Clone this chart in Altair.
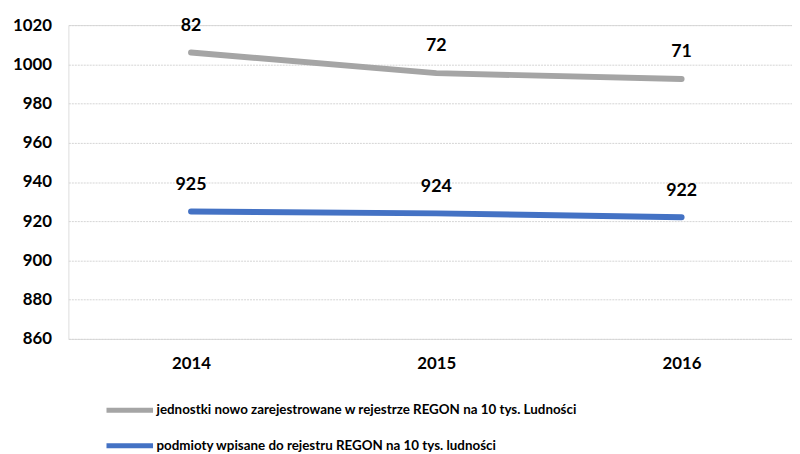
import altair as alt
import pandas as pd

years = [2014, 2015, 2016]
series_names = [
    "jednostki nowo zarejestrowane w rejestrze REGON na 10 tys. Ludności",
    "podmioty wpisane do rejestru REGON na 10 tys. ludności",
]
gray_values = [1006, 995.5, 992.5]
gray_labels = ["82", "72", "71"]
blue_values = [925, 924, 922]
blue_labels = ["925", "924", "922"]
y_ticks = [860, 880, 900, 920, 940, 960, 980, 1000, 1020]

rows = []
for yr, v, lab in zip(years, gray_values, gray_labels):
    rows.append({"rok": yr, "seria": series_names[0], "wartosc": v, "etykieta": lab})
for yr, v, lab in zip(years, blue_values, blue_labels):
    rows.append({"rok": yr, "seria": series_names[1], "wartosc": v, "etykieta": lab})
df = pd.DataFrame(rows)

FONT = "Lato"

x = alt.X(
    "rok:Q",
    scale=alt.Scale(domain=[2013.5, 2016.45], nice=False, zero=False),
    axis=alt.Axis(
        values=years, format="d", title=None, grid=False, domain=False, ticks=False,
        labelFont=FONT, labelFontSize=17, labelFontWeight="bold", labelColor="#000000",
        labelPadding=17, labelFlush=False,
    ),
)
y = alt.Y(
    "wartosc:Q",
    scale=alt.Scale(domain=[860, 1020], nice=False, zero=False),
    axis=alt.Axis(
        values=y_ticks, format="d", title=None, domain=False, ticks=False,
        gridColor="#d4d4d4", gridDash=[2, 1], gridWidth=1,
        labelFont=FONT, labelFontSize=17, labelFontWeight="bold", labelColor="#000000",
        labelPadding=17,
    ),
)
color = alt.Color(
    "seria:N",
    scale=alt.Scale(domain=series_names, range=["#a5a5a5", "#4472c4"]),
    legend=alt.Legend(
        title=None, orient="none", legendX=36, legendY=363, direction="vertical",
        symbolType="stroke", symbolSize=2209, symbolStrokeWidth=5,
        labelFont=FONT, labelFontSize=13.5, labelFontWeight="bold",
        labelColor="#000000", labelLimit=0,
        rowPadding=-9, labelOffset=1,
    ),
)

base = alt.Chart(df)
lines = base.mark_line(strokeWidth=6, strokeCap="round").encode(x=x, y=y, color=color)
texts = base.mark_text(dy=-27, fontSize=18, fontWeight="bold", font=FONT, color="#000000").encode(
    x=x, y=y, text="etykieta:N"
)

chart = (
    alt.layer(lines, texts)
    .properties(
        width=731, height=317,
        padding={"left": 61, "top": 15, "right": 0, "bottom": 114},
        autosize=alt.AutoSizeParams(type="none"),
    )
    .configure_view(stroke=None)
    .configure(background="white")
)

chart.save("out.html", embed_options={"renderer": "svg", "actions": False})
